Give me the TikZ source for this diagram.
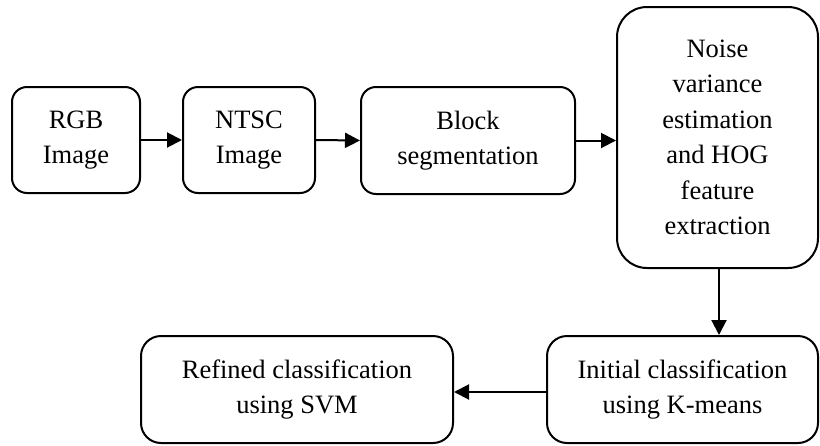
\documentclass[tikz,border=0pt]{standalone}
\usepackage{fontspec}
\setmainfont{Liberation Serif}
\usetikzlibrary{arrows.meta}

\tikzset{
  stage/.style={draw=black, line width=2pt, rounded corners=15pt, align=center,
    inner sep=0pt, font=\fontsize{26.5}{35.5}\selectfont},
  flow/.style={line width=2pt, -{Triangle[length=15pt, width=15pt]}}
}

\begin{document}
\begin{tikzpicture}[x=1pt, y=-1pt]
  \useasboundingbox (0,0) rectangle (820,445);

  % top row
  \node[stage, minimum width=128pt, minimum height=106pt] (rgb) at (76,140) {RGB\\Image};
  \node[stage, minimum width=132pt, minimum height=106pt] (ntsc) at (249,140) {NTSC\\Image};
  \node[stage, minimum width=214pt, minimum height=107pt] (block) at (468,140.5) {Block\\segmentation};
  \node[stage, rounded corners=30pt, minimum width=201pt, minimum height=261pt] (noise) at (717.5,137.5)
    {Noise\\variance\\estimation\\and HOG\\feature\\extraction};

  % bottom row
  \node[stage, rounded corners=20pt, minimum width=271pt, minimum height=107pt] (kmeans) at (682.5,389.5)
    {Initial classification\\using K-means};
  \node[stage, rounded corners=20pt, minimum width=312pt, minimum height=107pt] (svm) at (297,389.5)
    {Refined classification\\using SVM};

  % connectors
  \draw[flow] (rgb.east) -- (ntsc.west);
  \draw[flow] (ntsc.east) -- (block.west);
  \draw[flow] (block.east) -- (block.east -| noise.west);
  \draw[flow] ([xshift=1.5pt]noise.south) -- ([xshift=1.5pt]noise.south |- kmeans.north);
  \draw[flow] ([yshift=-2.5pt]kmeans.west) -- ([yshift=-2.5pt]svm.east);
\end{tikzpicture}
\end{document}
